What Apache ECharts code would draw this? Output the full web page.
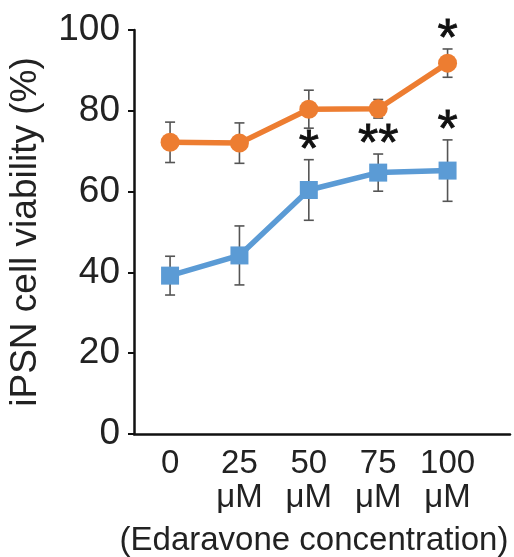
<!DOCTYPE html>
<html><head><meta charset="utf-8">
<script src="https://cdn.jsdelivr.net/npm/echarts@6/dist/echarts.min.js"></script>
<style>html,body{margin:0;padding:0;background:#fff}#c{width:514px;height:557px}</style>
</head><body><div id="c"></div>
<script>
var categories = ["0", "25\nμM", "50\nμM", "75\nμM", "100\nμM"];
var orangeMean = [72.2, 72.0, 80.4, 80.5, 91.8];
var orangeErr = [5.0, 5.0, 4.7, 2.3, 3.5];
var blueMean = [39.2, 44.2, 60.4, 64.7, 65.2];
var blueErr = [4.8, 7.3, 7.5, 4.6, 7.6];
var orangeSig = ["", "", "", "", "*"];
var blueSig = ["", "", "*", "**", "*"];
var yTicks = [0, 20, 40, 60, 80, 100];

var FONT = '"Liberation Sans", Arial, sans-serif';
var ORANGE = '#ED7D31', BLUE = '#5B9BD5';

function pts(arr){ return arr.map(function(v,i){ return [i, v]; }); }
function errData(mean, err){ return mean.map(function(v,i){ return [i, v - err[i], v + err[i]]; }); }

function errSeries(mean, err, sig){
  return {
    type: 'custom', z: 1,
    data: errData(mean, err),
    renderItem: function(params, api){
      var x = api.value(0);
      var lo = api.coord([x, api.value(1)]);
      var hi = api.coord([x, api.value(2)]);
      var cap = 5;
      var st = {stroke: '#555', lineWidth: 1.6};
      var children = [
        {type:'line', shape:{x1:lo[0], y1:lo[1], x2:hi[0], y2:hi[1]}, style: st},
        {type:'line', shape:{x1:hi[0]-cap, y1:hi[1], x2:hi[0]+cap, y2:hi[1]}, style: st},
        {type:'line', shape:{x1:lo[0]-cap, y1:lo[1], x2:lo[0]+cap, y2:lo[1]}, style: st}
      ];
      var s = sig[params.dataIndex];
      if (s) {
        children.push({type:'text', style:{text: s, x: hi[0], y: hi[1] + 18, align:'center', verticalAlign:'bottom',
          font: '52px ' + FONT, fill:'#111', stroke:'#111', lineWidth: 0.8}});
      }
      return {type:'group', children: children};
    }
  };
}

var chart = echarts.init(document.getElementById('c'));
chart.setOption({
  animation: false,
  grid: {left: 134, top: 30, right: 4, bottom: 123, outerBoundsMode: 'none', containLabel: false},
  xAxis: {
    type: 'value', min: -0.52, max: 4.9,
    splitLine: {show: false},
    axisLine: {show: true, onZero: false, lineStyle: {color: '#111', width: 2.5}},
    axisTick: {show: false},
    axisLabel: {
      customValues: [0,1,2,3,4],
      formatter: function(v){ return categories[Math.round(v)]; },
      fontSize: 33, lineHeight: 34, color: '#222', fontFamily: FONT, margin: 13
    },
    name: '(Edaravone concentration)', nameLocation: 'middle', nameGap: 90,
    nameTextStyle: {fontSize: 33, color: '#222', fontFamily: FONT, padding: [0, 16, 0, 0]}
  },
  yAxis: {
    type: 'value', min: 0, max: 100, interval: 20,
    splitLine: {show: false},
    axisLine: {show: true, onZero: false, lineStyle: {color: '#111', width: 2.5}},
    axisTick: {show: true, length: 6, inside: false, lineStyle: {color: '#111', width: 2}},
    axisLabel: {fontSize: 37, color: '#222', fontFamily: FONT, margin: 14,
      formatter: function(v){ return yTicks.indexOf(v) >= 0 ? String(v) : ''; }},
    name: 'iPSN cell viability (%)', nameLocation: 'middle', nameGap: 90, nameRotate: 90,
    nameTextStyle: {fontSize: 37, color: '#222', fontFamily: FONT}
  },
  series: [
    errSeries(orangeMean, orangeErr, orangeSig),
    errSeries(blueMean, blueErr, blueSig),
    {type: 'line', z: 3, data: pts(orangeMean), symbol: 'circle', symbolSize: 19,
      lineStyle: {color: ORANGE, width: 5.5}, itemStyle: {color: ORANGE}},
    {type: 'line', z: 3, data: pts(blueMean), symbol: 'rect', symbolSize: 18,
      lineStyle: {color: BLUE, width: 5.5}, itemStyle: {color: BLUE}}
  ]
});
</script></body></html>
